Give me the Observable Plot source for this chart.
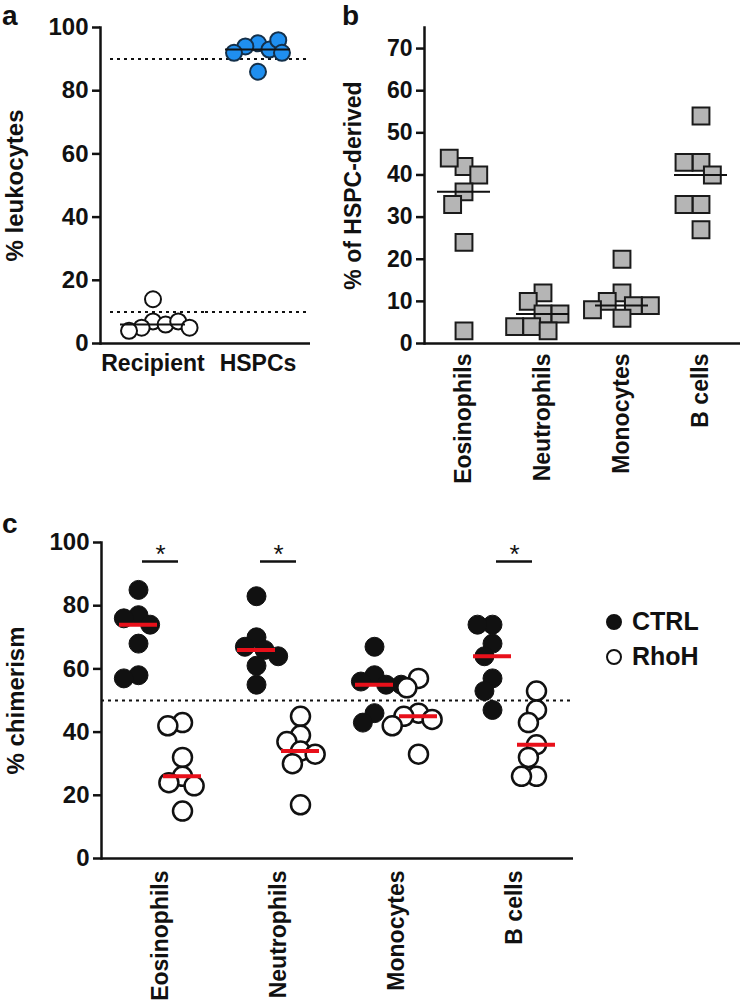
<!DOCTYPE html>
<html><head><meta charset="utf-8">
<script src="https://cdn.jsdelivr.net/npm/d3@7"></script>
<script src="https://cdn.jsdelivr.net/npm/@observablehq/plot@0.6"></script>
<style>
body{margin:0;background:#fff;font-family:"Liberation Sans",Arial,sans-serif;color:#111}
#root{position:relative;width:741px;height:1006px;overflow:hidden;background:#fff}
.panel{position:absolute}
.letter{position:absolute;font-weight:bold;font-size:28px;line-height:normal}
.leg{position:absolute;font-weight:bold;font-size:25px;line-height:1;display:flex;align-items:center}
.sym{display:inline-block;width:16px;height:16px;border-radius:50%;border:2.5px solid #111;box-sizing:border-box;margin-right:10px}
</style></head><body><div id="root"></div>
<script>
// ---------- data ----------
const groupsA = ["Recipient", "HSPCs"];
const recipientVals = [14, 7, 5, 6, 4, 7, 5];
const hspcVals = [95, 94, 93, 96, 92, 92, 86];
const thresholdsA = [90, 10];

const cellTypes = ["Eosinophils", "Neutrophils", "Monocytes", "B cells"];
const derivedEos = [42, 44, 40, 36, 33, 24, 3];
const derivedNeut = [12, 10, 7, 7, 4, 4, 3];
const derivedMono = [20, 12, 10, 9, 9, 8, 6];
const derivedB = [54, 43, 43, 40, 33, 33, 27];

const genotypes = ["CTRL", "RhoH"];
const ctrlEos = [85, 77, 76, 74, 68, 58, 57];
const ctrlNeut = [83, 70, 67, 66, 64, 61, 55];
const ctrlMono = [67, 58, 56, 55, 55, 46, 43];
const ctrlB = [74, 74, 68, 64, 57, 53, 47];
const rhohEos = [43, 42, 32, 26, 24, 23, 15];
const rhohNeut = [45, 39, 37, 34, 33, 30, 17];
const rhohMono = [57, 54, 46, 45, 44, 42, 33];
const rhohB = [53, 47, 43, 36, 32, 26, 26];
const significant = ["Eosinophils", "Neutrophils", "B cells"];
const thresholdC = [50];

const ticksA = [0, 20, 40, 60, 80, 100];
const ticksB = [0, 10, 20, 30, 40, 50, 60, 70];
const ticksC = [0, 20, 40, 60, 80, 100];

// ---------- helpers ----------
const FONT = "'Liberation Sans', Arial, sans-serif";
const INK = "#111";
const root = document.getElementById("root");
function place(el, left, top) { el.classList.add("panel"); el.style.left = left + "px"; el.style.top = top + "px"; root.appendChild(el); }
function medians(rows, key) {
  return d3.groups(rows, d => d[key]).map(([k, v]) => ({[key]: k, value: d3.median(v, d => d.value)}));
}
const STYLE = {fontFamily: FONT, fontWeight: "bold", color: INK, overflow: "visible", background: "transparent"};

// ---------- panel a ----------
const dataA = [
  ...recipientVals.map(value => ({group: "Recipient", value})),
  ...hspcVals.map(value => ({group: "HSPCs", value}))
];
const threshRowsA = groupsA.flatMap(group => thresholdsA.map(value => ({group, value})));
const plotA = Plot.plot({
  width: 320, height: 400,
  marginLeft: 100, marginRight: 10, marginTop: 27, marginBottom: 57,
  style: STYLE,
  fx: {domain: groupsA, padding: 0, label: null},
  y: {domain: [0, 100], label: "% leukocytes"},
  marks: [
    Plot.ruleY(threshRowsA.filter(d => d.group === "Recipient"), {fx: "group", y: "value", stroke: INK, strokeWidth: 2, strokeDasharray: "3,4", insetLeft: 10}),
    Plot.ruleY(threshRowsA.filter(d => d.group === "HSPCs"), {fx: "group", y: "value", stroke: INK, strokeWidth: 2, strokeDasharray: "3,4"}),
    Plot.frame({anchor: "left", facet: "super", stroke: INK, strokeWidth: 2.5}),
    Plot.ruleY([0], {stroke: INK, strokeWidth: 2.5}),
    Plot.axisY({ticks: ticksA, tickSize: 8, tickPadding: 4, fontSize: 24, strokeWidth: 2.5,
      label: "% leukocytes", labelAnchor: "center", labelArrow: "none", labelOffset: 95}),
    Plot.axisFx({anchor: "bottom", tickSize: 0, tickPadding: 11, fontSize: 23, label: null}),
    Plot.dot(dataA.filter(d => d.group === "Recipient"),
      Plot.dodgeX({anchor: "middle", padding: -3}, {fx: "group", y: "value", r: 8, fill: "white", stroke: INK, strokeWidth: 2})),
    Plot.dot(dataA.filter(d => d.group === "HSPCs"),
      Plot.dodgeX({anchor: "middle", padding: -3}, {fx: "group", y: "value", r: 8, fill: "#1f8ff0", stroke: "#14304a", strokeWidth: 2})),
    Plot.tickY(medians(dataA, "group"), {fx: "group", y: "value", stroke: INK, strokeWidth: 2, insetLeft: 20, insetRight: 20})
  ]
});
place(plotA, 0, 0);

// ---------- panel b ----------
const derivedSeries = [derivedEos, derivedNeut, derivedMono, derivedB];
const dataB = cellTypes.flatMap((cell, i) => derivedSeries[i].map(value => ({cell, value})));
const plotB = Plot.plot({
  width: 411, height: 500,
  marginLeft: 93, marginRight: 0, marginTop: 27, marginBottom: 157,
  style: STYLE,
  fx: {domain: cellTypes, padding: 0, label: null},
  y: {domain: [0, 75], label: "% of HSPC-derived"},
  marks: [
    Plot.frame({anchor: "left", facet: "super", stroke: INK, strokeWidth: 2.5}),
    Plot.ruleY([0], {stroke: INK, strokeWidth: 2.5}),
    Plot.axisY({ticks: ticksB, tickSize: 8, tickPadding: 4, fontSize: 23, strokeWidth: 2.5,
      label: "% of HSPC-derived", labelAnchor: "center", labelArrow: "none", labelOffset: 80}),
    Plot.axisFx({anchor: "bottom", tickSize: 0, tickPadding: 10, tickRotate: -90, fontSize: 23, label: null}),
    Plot.dot(dataB, Plot.dodgeX({anchor: "middle", padding: -2}, {fx: "cell", y: "value", symbol: "square", r: 9.5, fill: "#b5b5b5", stroke: "#1a1a1a", strokeWidth: 2})),
    Plot.tickY(medians(dataB, "cell"), {fx: "cell", y: "value", stroke: INK, strokeWidth: 2, insetLeft: 13, insetRight: 13})
  ]
});
place(plotB, 330, 0);

// ---------- panel c ----------
const ctrlSeries = [ctrlEos, ctrlNeut, ctrlMono, ctrlB];
const rhohSeries = [rhohEos, rhohNeut, rhohMono, rhohB];
const dataC = [
  ...cellTypes.flatMap((cell, i) => ctrlSeries[i].map(value => ({cell, genotype: "CTRL", value}))),
  ...cellTypes.flatMap((cell, i) => rhohSeries[i].map(value => ({cell, genotype: "RhoH", value})))
];
const ctrlRows = dataC.filter(d => d.genotype === "CTRL");
const rhohRows = dataC.filter(d => d.genotype === "RhoH");
const SIG_LEVEL = 94;
const sigRows = significant.map(cell => ({cell}));
const plotC = Plot.plot({
  width: 741, height: 526,
  marginLeft: 100, marginRight: 168, marginTop: 62, marginBottom: 148,
  style: STYLE,
  fx: {domain: cellTypes, padding: 0, label: null},
  y: {domain: [0, 100], label: "% chimerism"},
  marks: [
    Plot.ruleY(thresholdC, {stroke: INK, strokeWidth: 2, strokeDasharray: "3,4"}),
    Plot.frame({anchor: "left", facet: "super", stroke: INK, strokeWidth: 2.5}),
    Plot.ruleY([0], {stroke: INK, strokeWidth: 2.5}),
    Plot.axisY({ticks: ticksC, tickSize: 8, tickPadding: 4, fontSize: 24, strokeWidth: 2.5,
      label: "% chimerism", labelAnchor: "center", labelArrow: "none", labelOffset: 95}),
    Plot.axisFx({anchor: "bottom", tickSize: 0, tickPadding: 12, tickRotate: -90, fontSize: 23, label: null}),
    Plot.dot(ctrlRows, Plot.dodgeX({anchor: "middle", padding: -4}, {fx: "cell", y: "value", r: 9.5, fill: INK, stroke: INK, strokeWidth: 1, dx: -22})),
    Plot.dot(rhohRows, Plot.dodgeX({anchor: "middle", padding: -4}, {fx: "cell", y: "value", r: 9.5, fill: "white", stroke: INK, strokeWidth: 2.5, dx: 22})),
    Plot.tickY(medians(ctrlRows, "cell"), {fx: "cell", y: "value", stroke: "#e8101a", strokeWidth: 4, insetLeft: 40, insetRight: 40, dx: -22}),
    Plot.tickY(medians(rhohRows, "cell"), {fx: "cell", y: "value", stroke: "#e8101a", strokeWidth: 4, insetLeft: 40, insetRight: 40, dx: 22}),
    Plot.tickY(sigRows, {fx: "cell", y: () => SIG_LEVEL, stroke: INK, strokeWidth: 2.5, insetLeft: 41, insetRight: 41}),
    Plot.text(sigRows, {fx: "cell", y: () => SIG_LEVEL, text: () => "*", frameAnchor: "middle", lineAnchor: "bottom", dy: 2, fontSize: 26, fontWeight: "normal", fill: INK})
  ]
});
place(plotC, 0, 480);

// ---------- panel letters & legend ----------
function letter(t, left, top) {
  const d = document.createElement("div"); d.className = "letter"; d.textContent = t;
  d.style.left = left + "px"; d.style.top = top + "px"; root.appendChild(d);
}
letter("a", 2, 0);
letter("b", 342, 0);
letter("c", 2, 508);
genotypes.forEach((g, i) => {
  const d = document.createElement("div"); d.className = "leg";
  d.style.left = "606px"; d.style.top = (609 + i * 35) + "px";
  const s = document.createElement("span"); s.className = "sym";
  s.style.background = g === "CTRL" ? INK : "white";
  d.appendChild(s); d.appendChild(document.createTextNode(g));
  root.appendChild(d);
});
</script></body></html>
